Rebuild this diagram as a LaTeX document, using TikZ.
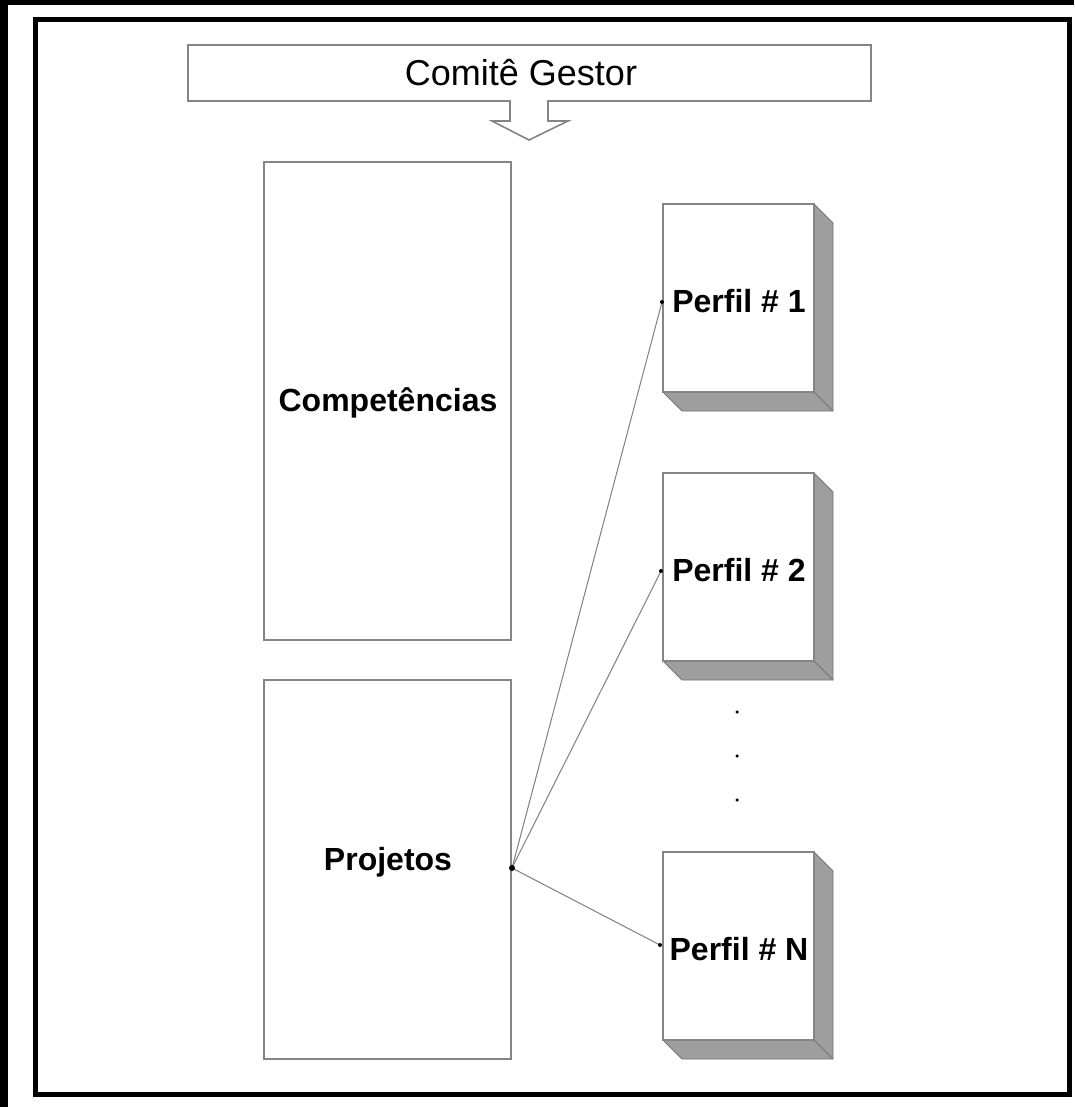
\documentclass[tikz,border=0pt]{standalone}
\usepackage{fontspec}
\setmainfont{Liberation Sans}
\begin{document}
\begin{tikzpicture}[x=1pt,y=-1pt,
  boxline/.style={draw=black!48,line width=1.6pt},
  sidefill/.style={fill=black!38,draw=black!55,line width=0.8pt},
  conn/.style={draw=black!50,line width=1pt},
  lbl/.style={font=\fontsize{32}{36}\selectfont\bfseries,inner sep=0pt},
  endpt/.style={circle,fill=black,inner sep=0pt,minimum size=4pt}]
\useasboundingbox (0,0) rectangle (1074,1107);
% background
\fill[black] (0,0) rectangle (1074,1107);
\fill[white] (8,5) rectangle (1074,1107);
% frame
\draw[black,line width=5pt] (35.5,19.5) rectangle (1069.5,1094.5);
% Comite Gestor box with arrow
\draw[boxline,fill=white,line join=miter] (188,45) -- (871,45) -- (871,101) -- (548,101) -- (548,121) -- (568,121) -- (529,140) -- (492,121) -- (510,121) -- (510,101) -- (188,101) -- cycle;
\node[font=\fontsize{36}{40}\selectfont,inner sep=0pt] (cg) at (521,73) {Comitê Gestor};
% Competencias
\draw[boxline] (264,162) rectangle (511,640);
\node[lbl] (comp) at (388,403) {Competências};
% Projetos
\draw[boxline] (264,680) rectangle (511,1059);
\node[lbl] (proj) at (388,862) {Projetos};
\coordinate (p0) at (512,868);
% Perfil boxes
\foreach \t/\name/\lab in {204/pA/1, 473/pB/2, 852/pC/N}{
  \fill[black!38] (814,\t) -- (833,\t+19) -- (833,\t+207) -- (682,\t+207) -- (663,\t+188) -- (814,\t+188) -- cycle;
  \draw[black!55,line width=0.8pt] (814,\t) -- (833,\t+19) -- (833,\t+207) -- (682,\t+207) -- (663,\t+188);
  \draw[black!55,line width=0.8pt] (814,\t+188) -- (833,\t+207);
  \draw[boxline,fill=white] (663,\t) rectangle (814,\t+188);
  \node[lbl] (\name) at (739,\t+97) {Perfil \# \lab};
}
\coordinate (cA) at (662,302);
\coordinate (cB) at (661,571);
\coordinate (cC) at (660,945);
% connectors
\draw[conn] (p0) -- (cA);
\draw[conn] (p0) -- (cB);
\draw[conn] (p0) -- (cC);
\node[endpt] at (cA) {};
\node[endpt] at (cB) {};
\node[endpt] at (cC) {};
\node[endpt,minimum size=6pt] at (p0) {};
% dots
\foreach \yy/\nm in {712/d1,756/d2,800/d3}{
  \node[circle,fill=black,inner sep=0pt,minimum size=3.5pt] (\nm) at (737,\yy) {};
}
\end{tikzpicture}
\end{document}
